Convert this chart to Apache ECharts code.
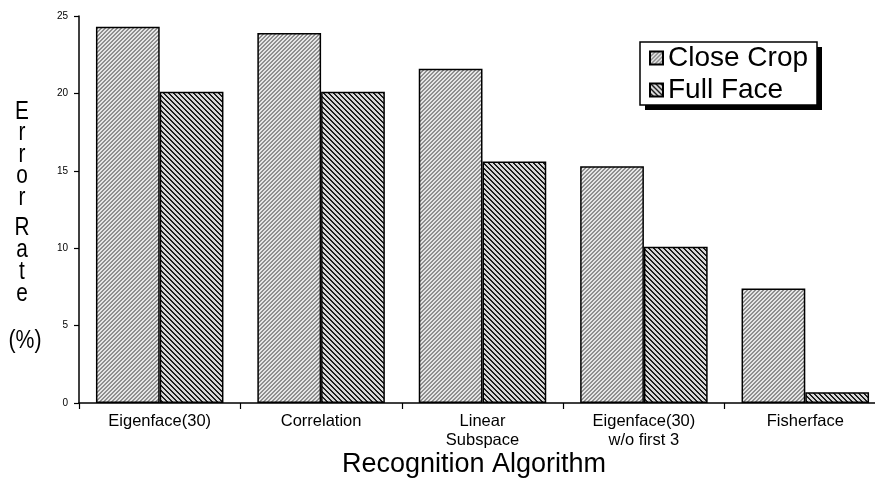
<!DOCTYPE html>
<html>
<head>
<meta charset="utf-8">
<script src="https://cdn.jsdelivr.net/npm/echarts@6/dist/echarts.min.js"></script>
<style>
html,body{margin:0;padding:0;background:#fff;}
#main{width:875px;height:478px;}
</style>
</head>
<body>
<div id="main"></div>
<script>
const categories = ['Eigenface(30)', 'Correlation', 'Linear\nSubspace', 'Eigenface(30)\nw/o first 3', 'Fisherface'];
const closeCrop = [24.3, 23.9, 21.6, 15.3, 7.4];
const fullFace = [20.1, 20.1, 15.6, 10.1, 0.7];
const yTicks = [0, 5, 10, 15, 20, 25];

function hatch(dir, period, thick, fg, bg) {
  const c = document.createElement('canvas');
  c.width = period; c.height = period;
  const ctx = c.getContext('2d');
  ctx.fillStyle = bg; ctx.fillRect(0, 0, period, period);
  ctx.fillStyle = fg;
  for (let x = 0; x < period; x++) {
    for (let y = 0; y < period; y++) {
      const k = dir > 0 ? (x + y) % period : (((x - y) % period) + period) % period;
      if (k < thick) ctx.fillRect(x, y, 1, 1);
    }
  }
  return c;
}
const closePat = { image: hatch(1, 4, 2, '#8f8f8f', '#e6e6e6'), repeat: 'repeat' };
const fullPat = { image: hatch(-1, 5, 2, '#1e1e1e', '#d8d8d8'), repeat: 'repeat' };

const sans = '"Liberation Sans", Arial, Helvetica, sans-serif';

const chart = echarts.init(document.getElementById('main'), null, { renderer: 'canvas' });
chart.setOption({
  backgroundColor: '#fff',
  animation: false,
  grid: { left: 79, top: 16, height: 387, width: 807, containLabel: false, outerBoundsMode: 'none' },
  legend: {
    left: 649, top: 43,
    orient: 'vertical',
    padding: 0,
    itemGap: 2,
    itemWidth: 13, itemHeight: 13,
    itemTextGap: 6,
    icon: 'rect',
    z: 10,
    textStyle: { fontFamily: sans, fontSize: 28, color: '#000', lineHeight: 30 },
    data: ['Close Crop', 'Full Face']
  },
  xAxis: {
    type: 'category',
    data: categories,
    axisLine: { lineStyle: { color: '#000', width: 1.5 } },
    axisTick: { show: true, length: 6, lineStyle: { color: '#000', width: 1.2 } },
    axisLabel: { fontFamily: sans, fontSize: 16.5, color: '#000', margin: 9, lineHeight: 19, interval: 0 }
  },
  yAxis: {
    type: 'value',
    min: 0, max: 25, interval: 5,
    splitLine: { show: false },
    axisLine: { show: true, lineStyle: { color: '#000', width: 1.5 } },
    axisTick: { show: true, length: 5, lineStyle: { color: '#000', width: 1.2 } },
    axisLabel: {
      fontFamily: sans, fontSize: 10, color: '#000', margin: 11,
      formatter: v => yTicks.includes(v) ? String(v) : ''
    }
  },
  graphic: [
    { type: 'rect', z: 1, shape: { x: 645, y: 47, width: 177, height: 63 }, style: { fill: '#000' } },
    { type: 'rect', z: 2, shape: { x: 640, y: 42, width: 177, height: 63 }, style: { fill: '#fff', stroke: '#000', lineWidth: 1.5 } },
    { type: 'text', z: 3, x: 22, y: 101, scaleX: 0.8, style: { text: 'E\nr\nr\no\nr', fill: '#000', font: '26px ' + sans, align: 'center', verticalAlign: 'top', lineHeight: 21.5 } },
    { type: 'text', z: 3, x: 22, y: 217, scaleX: 0.8, style: { text: 'R\na\nt\ne', fill: '#000', font: '26px ' + sans, align: 'center', verticalAlign: 'top', lineHeight: 22 } },
    { type: 'text', z: 3, x: 25, y: 329, scaleX: 0.85, style: { text: '(%)', fill: '#000', font: '25px ' + sans, align: 'center', verticalAlign: 'top' } },
    { type: 'text', z: 3, x: 474, y: 451, style: { text: 'Recognition Algorithm', fill: '#000', font: '27px ' + sans, align: 'center', verticalAlign: 'top' } }
  ],
  series: [
    {
      name: 'Close Crop', type: 'bar', data: closeCrop,
      barGap: '0%', barCategoryGap: '21%',
      itemStyle: { color: closePat, borderColor: '#000', borderWidth: 1.5 }
    },
    {
      name: 'Full Face', type: 'bar', data: fullFace,
      itemStyle: { color: fullPat, borderColor: '#000', borderWidth: 1.5 }
    }
  ]
});
</script>
</body>
</html>
